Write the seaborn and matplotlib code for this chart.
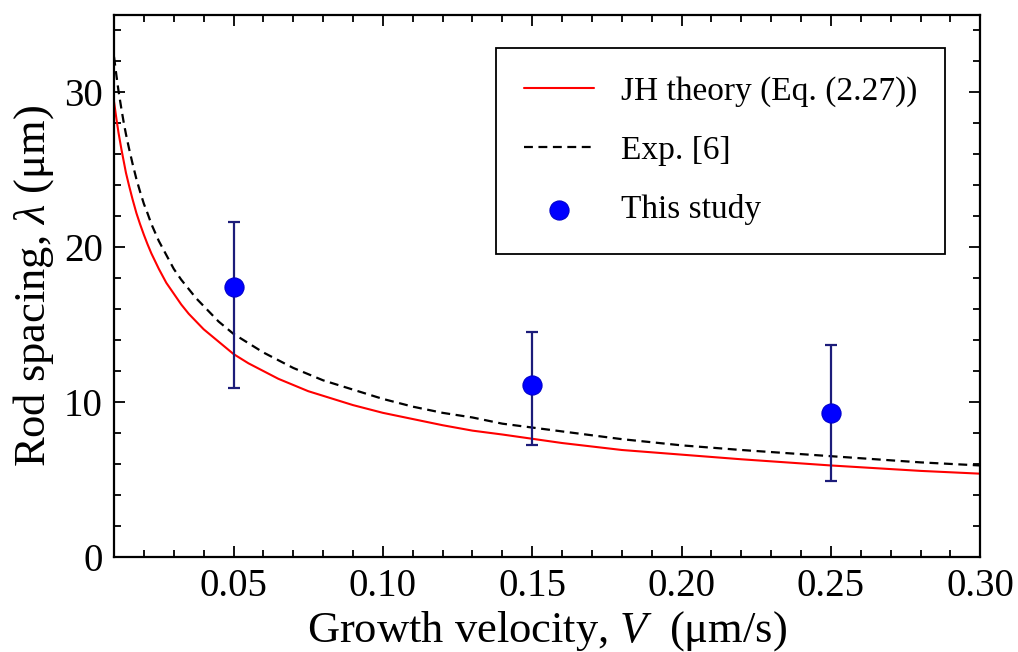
import numpy as np
import pandas as pd
import matplotlib
matplotlib.use("Agg")
import matplotlib.pyplot as plt
from matplotlib.ticker import MultipleLocator, FormatStrFormatter
import seaborn as sns

# Curve readings (growth velocity V in um/s, rod spacing in um)
v_curve = [0.01, 0.0108, 0.0115, 0.0125, 0.0133, 0.0140, 0.015, 0.0162, 0.0175, 0.0187, 0.02,
           0.0212, 0.0225, 0.025, 0.0275, 0.03, 0.0325, 0.035, 0.0375,
           0.04, 0.045, 0.05, 0.055, 0.06, 0.065, 0.07, 0.075, 0.08, 0.09, 0.10, 0.11,
           0.12, 0.13, 0.14, 0.16, 0.18, 0.20, 0.22, 0.25, 0.28, 0.30]
jh_theory = [29.4, 28.3, 27.4, 26.3, 25.5, 24.8, 24.0, 23.1, 22.2, 21.5, 20.8,
             20.2, 19.6, 18.6, 17.7, 17.0, 16.3, 15.7, 15.2,
             14.7, 13.9, 13.1, 12.5, 12.0, 11.5, 11.1, 10.7, 10.4, 9.8, 9.3, 8.9,
             8.5, 8.15, 7.9, 7.35, 6.9, 6.6, 6.3, 5.9, 5.55, 5.37]
exp_ref = [32.3, 31.1, 30.1, 28.9, 28.0, 27.3, 26.4, 25.4, 24.4, 23.6, 22.8,
           22.2, 21.5, 20.4, 19.5, 18.6, 17.9, 17.3, 16.7,
           16.2, 15.2, 14.4, 13.8, 13.2, 12.7, 12.2, 11.8, 11.4, 10.8, 10.2, 9.7,
           9.3, 9.0, 8.6, 8.1, 7.6, 7.2, 6.9, 6.5, 6.1, 5.9]

# This study
v_pts = [0.05, 0.15, 0.25]
lam_pts = [17.4, 11.1, 9.3]
lam_low = [10.9, 7.2, 4.9]
lam_high = [21.6, 14.5, 13.7]

sns.set_theme(style="ticks")
plt.rcParams['font.family'] = ['Liberation Serif', 'DejaVu Serif']
plt.rcParams['mathtext.fontset'] = 'custom'
plt.rcParams['mathtext.rm'] = 'Liberation Serif'
plt.rcParams['mathtext.it'] = 'Liberation Serif:italic'
plt.rcParams['text.color'] = 'black'
plt.rcParams['axes.labelcolor'] = 'black'

fig = plt.figure(figsize=(10.18, 6.52), dpi=100)
ax = fig.add_axes([0.112, 0.146, 0.851, 0.831])

df = pd.DataFrame({"V": v_curve, "JH": jh_theory, "Exp": exp_ref})
sns.lineplot(data=df, x="V", y="JH", ax=ax, color="#ff0000", lw=1.5,
             label="JH theory (Eq. (2.27))", sort=True)
sns.lineplot(data=df, x="V", y="Exp", ax=ax, color="black", lw=1.6,
             linestyle=(0, (4, 2.5)), label="Exp. [6]", sort=True)

lam = np.array(lam_pts)
yerr = [lam - np.array(lam_low), np.array(lam_high) - lam]
ax.errorbar(v_pts, lam_pts, yerr=yerr, fmt='none', ecolor="#1c1c7a",
            elinewidth=1.6, capsize=4, capthick=1.6, zorder=3)
sns.scatterplot(x=v_pts, y=lam_pts, ax=ax, color="#0000ff", s=190,
                edgecolor="#0000cc", linewidth=0.8, zorder=4, label="This study")

ax.set_xlim(0.01, 0.30)
ax.set_ylim(0, 35)
ax.set_xticks([0.05, 0.10, 0.15, 0.20, 0.25, 0.30])
ax.xaxis.set_major_formatter(FormatStrFormatter('%.2f'))
ax.xaxis.set_minor_locator(MultipleLocator(0.01))
ax.set_yticks([0, 10, 20, 30])
ax.yaxis.set_minor_locator(MultipleLocator(2))
ax.tick_params(which='both', direction='in', top=True, right=True, width=1.3,
               labelsize=28, colors='black')
ax.tick_params(which='major', length=8, pad=8)
ax.tick_params(which='minor', length=5)
for s in ax.spines.values():
    s.set_linewidth(1.6)
    s.set_color('black')

ax.set_xlabel(r"Growth velocity, $V$  (μm/s)", fontsize=32, labelpad=3, color='black')
ax.set_ylabel(r"Rod spacing, $\lambda$ (μm)", fontsize=32, labelpad=6, color='black')

leg = ax.legend(loc='upper right', bbox_to_anchor=(0.9596, 0.939), fontsize=24,
                frameon=True, fancybox=False, edgecolor='black', framealpha=1,
                handlelength=2.1, handletextpad=0.8, borderpad=0.85, labelspacing=0.85,
                borderaxespad=0)
leg.get_frame().set_linewidth(1.3)
for t in leg.get_texts():
    t.set_color('black')

fig.savefig("out.png", dpi=100)
